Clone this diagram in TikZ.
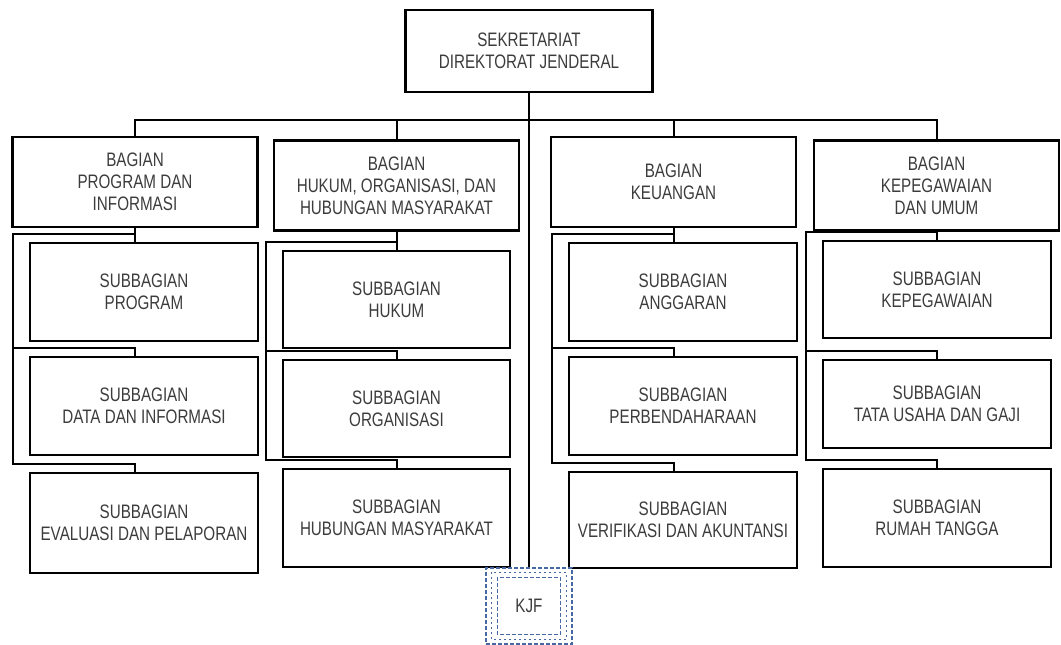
\documentclass[tikz,border=0pt]{standalone}
\usepackage{fontspec}
\setmainfont[FakeStretch=0.78]{Liberation Sans}
\usepackage{xcolor}
\usetikzlibrary{positioning,calc}
\definecolor{txtgray}{RGB}{60,60,60}
\definecolor{kjfblue}{RGB}{70,105,165}

\begin{document}
\begin{tikzpicture}[x=1pt, y=-1pt,
    unit/.style={draw, line width=2.8pt, align=center, inner sep=0pt, text=txtgray,
                 font=\fontsize{19.5}{22}\selectfont},
    bagbox/.style={unit, minimum width=245pt, minimum height=90pt},
    subbox/.style={unit, minimum width=228pt, minimum height=98pt},
    link/.style={line width=2pt},
    kjfline/.style={draw=kjfblue, dash pattern=on 4pt off 2pt, line width=1.1pt}]
\useasboundingbox (0,0) rectangle (1061,645);

% top
\node[unit, minimum width=247pt, minimum height=82pt] (sekr) at (529,51) {SEKRETARIAT\\DIREKTORAT JENDERAL};

% bagian
\node[bagbox] (bag1) at (135,182) {BAGIAN\\PROGRAM DAN\\INFORMASI};
\node[bagbox] (bag2) at (396.5,185.5) {BAGIAN\\HUKUM, ORGANISASI, DAN\\HUBUNGAN MASYARAKAT};
\node[bagbox] (bag3) at (673.5,182) {BAGIAN\\KEUANGAN};
\node[bagbox] (bag4) at (936.5,185.5) {BAGIAN\\KEPEGAWAIAN\\DAN UMUM};

% subbagian
\node[subbox] (s11) at (144,292) {SUBBAGIAN\\PROGRAM};
\node[subbox] (s12) at (144,406) {SUBBAGIAN\\DATA DAN INFORMASI};
\node[subbox, minimum height=100pt] (s13) at (144,523) {SUBBAGIAN\\EVALUASI DAN PELAPORAN};

\node[subbox, minimum width=227pt, minimum height=97pt] (s21) at (396.5,299.5) {SUBBAGIAN\\HUKUM};
\node[subbox, minimum width=227pt, minimum height=97pt] (s22) at (396.5,408.5) {SUBBAGIAN\\ORGANISASI};
\node[subbox, minimum width=227pt] (s23) at (396.5,518) {SUBBAGIAN\\HUBUNGAN MASYARAKAT};

\node[subbox] (s31) at (683,292) {SUBBAGIAN\\ANGGARAN};
\node[subbox] (s32) at (683,406) {SUBBAGIAN\\PERBENDAHARAAN};
\node[subbox, minimum height=96pt] (s33) at (683,520) {SUBBAGIAN\\VERIFIKASI DAN AKUNTANSI};

\node[subbox, minimum height=97pt] (s41) at (937,289.5) {SUBBAGIAN\\KEPEGAWAIAN};
\node[subbox, minimum height=88pt] (s42) at (937,404) {SUBBAGIAN\\TATA USAHA DAN GAJI};
\node[subbox] (s43) at (937,518) {SUBBAGIAN\\RUMAH TANGGA};

% kjf
\node[kjfline, minimum width=86pt, minimum height=76pt, text=txtgray,
      font=\fontsize{19.5}{22}\selectfont] (kjf) at (529,606) {KJF};
\draw[kjfline] ([shift={(12pt,-10pt)}]kjf.north west) rectangle ([shift={(-12pt,10pt)}]kjf.south east);
\draw[kjfline, dash pattern=on 2pt off 3pt] ([shift={(6pt,-5pt)}]kjf.north west) rectangle ([shift={(-6pt,5pt)}]kjf.south east);

% connectors
\coordinate (bus) at (529,120);
\draw[link] (sekr.south) -- (sekr.south |- kjf.north);
\draw[link] (bag1.north) -- (bag1.north |- bus) -- (bag4.north |- bus) -- (bag4.north);
\draw[link] (bag2.north |- bus) -- (bag2.north);
\draw[link] (bag3.north |- bus) -- (bag3.north);

\foreach \c in {1,...,4} {
  \foreach \j in {1,2,3} {
    \path (bag\c.south |- s\c\j.north) ++(0,-8) coordinate (k\c\j);
  }
  \coordinate (rail\c) at ($(s\c1.west)+(-16,0)$);
  \draw[link] (bag\c.south) -- (bag\c.south |- s\c1.north);
  \draw[link] (k\c1) -| (rail\c |- k\c3) -- (k\c3) -- (bag\c.south |- s\c3.north);
  \draw[link] (rail\c |- k\c2) -- (k\c2) -- (bag\c.south |- s\c2.north);
}
\end{tikzpicture}
\end{document}
